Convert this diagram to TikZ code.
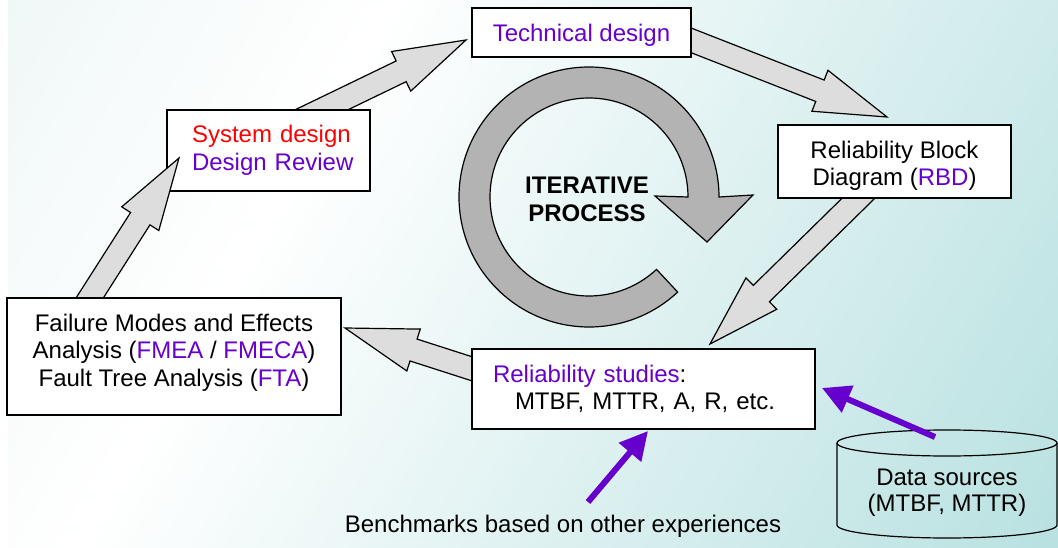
\documentclass[tikz,border=0pt]{standalone}
\usepackage{fontspec}
\setmainfont{Liberation Sans}
\usetikzlibrary{calc,arrows.meta}
\definecolor{purp}{HTML}{6600CC}
\definecolor{arrowgray}{HTML}{DDDDDD}
\definecolor{circgray}{HTML}{B3B3B3}
\definecolor{bgA}{HTML}{E4F1F1}
\definecolor{bgB}{HTML}{A2D7D7}
\pgfdeclarehorizontalshading{bgshade}{100bp}{color(0bp)=(bgA); color(35bp)=(white); color(100bp)=(bgB)}
\newcommand\blockarr[2]{%
  \coordinate (ba-h) at ($(#2)!72pt!(#1)$);
  \draw[blockarrow] ($(#1)!11.5pt!90:(#2)$) -- ($(ba-h)!11.5pt!90:(#2)$) -- ($(ba-h)!22pt!90:(#2)$) -- (#2) -- ($(ba-h)!22pt!-90:(#2)$) -- ($(ba-h)!11.5pt!-90:(#2)$) -- ($(#1)!11.5pt!-90:(#2)$) -- cycle;}
\tikzset{
  box/.style={draw=black, line width=1.3pt, fill=white, inner sep=0pt},
  blockarrow/.style={draw=black, line width=1.2pt, fill=arrowgray, line join=miter},
  circarrow/.style={draw=black, line width=1.2pt, fill=circgray, line join=miter},
  purparrow/.style={draw=purp, line width=6pt, -{Triangle[length=28pt,width=28pt]}},
  plainline/.style={draw=black, line width=1.2pt}
}
\begin{document}
\begin{tikzpicture}[x=1pt,y=-1pt, font=\fontsize{24}{27.5}\selectfont]
\useasboundingbox (0,0) rectangle (1058,548);
\fill[white] (0,0) rectangle (1058,548);
\shade[shading=bgshade, shading angle=-30] (8,0) rectangle (1058,548);

% arrow: system design -> technical design
\coordinate (a2t) at (288,126);
\coordinate (a2h) at (466,40);
\blockarr{a2t}{a2h}
\node[box, minimum width=203pt, minimum height=81pt, text width=153pt, inner xsep=25pt, align=left] (sys) at (268.5,150.5) {\mbox{\textcolor{red}{System design}}\\\mbox{\textcolor{purp}{Design Review}}};

% arrow: FMEA -> system design
\coordinate (a1t) at (82,310);
\coordinate (a1h) at (179,158);
\blockarr{a1t}{a1h}
\node[box, minimum width=334pt, minimum height=117pt] (fmea) at (174,356.5) {};
\node[align=center] (fmeatext) at (174,352.5) {Failure Modes and Effects\\Analysis (\textcolor{purp}{FMEA} / \textcolor{purp}{FMECA})\\Fault Tree Analysis (\textcolor{purp}{FTA})};

% arrow: technical design -> RBD
\coordinate (a3t) at (680,36);
\coordinate (a3h) at (887,117);
\blockarr{a3t}{a3h}
\node[box, minimum width=219pt, minimum height=49pt] (tech) at (581.5,32.5) {};
\node (techtext) at (581.5,35) {\textcolor{purp}{Technical design}};

% arrow: RBD -> reliability studies
\coordinate (a4t) at (875,182);
\coordinate (a4h) at (710,344);
\blockarr{a4t}{a4h}
\node[box, minimum width=233pt, minimum height=73pt] (rbd) at (894.5,161.5) {};
\node[align=center] (rbdtext) at (894.5,166) {Reliability Block\\Diagram (\textcolor{purp}{RBD})};

% arrow: reliability studies -> FMEA
\coordinate (a5t) at (485,373);
\coordinate (a5h) at (345,328);
\blockarr{a5t}{a5h}
\node[box, minimum width=343pt, minimum height=80pt, text width=301pt, inner xsep=21pt, align=left] (rel) at (643.5,389) {\textcolor{purp}{Reliability studies}:\\\hspace*{22pt}MTBF, MTTR, A, R, etc.};

% iterative circular arrow
\coordinate (cc) at (589,197);
\draw[circarrow] ($(cc)+(47:130)$) arc[start angle=47, end angle=360, radius=130] -- (753,195) -- (707,242) -- (655,196) -- ($(cc)+(0:99)$) arc[start angle=360, end angle=47, radius=99] -- cycle;
\node[align=center, font=\fontsize{24}{28}\selectfont\bfseries] (iter) at (587,199) {ITERATIVE\\PROCESS};

% data sources cylinder
\draw[plainline] (837,443) -- (837,525) arc[start angle=180, end angle=0, x radius=110, y radius=13] -- (1057,443);
\draw[plainline] (947,443) ellipse[x radius=110, y radius=13];
\node[align=center, font=\fontsize{24}{26}\selectfont] (ds) at (947,493) {Data sources\\(MTBF, MTTR)};

% benchmarks
\node (benchtxt) at (563,526) {Benchmarks based on other experiences};

% purple arrows
\coordinate (dsTop) at (935,437);
\coordinate (relTipR) at (822,388);
\draw[purparrow] (dsTop) -- (relTipR);
\coordinate (benchTail) at (588,502);
\coordinate (relTipB) at (648,431);
\draw[purparrow] (benchTail) -- (relTipB);
\end{tikzpicture}
\end{document}
